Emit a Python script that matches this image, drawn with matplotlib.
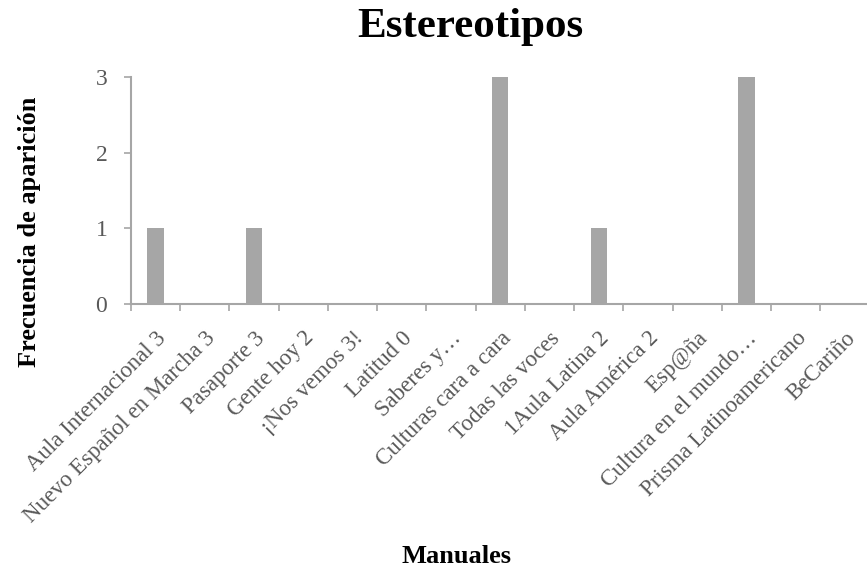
import matplotlib
matplotlib.use("Agg")
import matplotlib.pyplot as plt
from matplotlib.transforms import ScaledTranslation
import numpy as np

manuales = [
    "Aula Internacional 3",
    "Nuevo Español en Marcha 3",
    "Pasaporte 3",
    "Gente hoy 2",
    "¡Nos vemos 3!",
    "Latitud 0",
    "Saberes y…",
    "Culturas cara a cara",
    "Todas las voces",
    "1Aula Latina 2",
    "Aula América 2",
    "Esp@ña",
    "Cultura en el mundo…",
    "Prisma Latinoamericano",
    "BeCariño",
]
frecuencia = [1, 0, 1, 0, 0, 0, 0, 3, 0, 1, 0, 0, 3, 0, 0]
y_ticks = [0, 1, 2, 3]

gris = "#a6a6a6"
texto_gris = "#595959"

plt.rcParams["font.family"] = ["Liberation Serif", "DejaVu Serif"]

fig = plt.figure(figsize=(8.67, 5.71), dpi=100)
ax = fig.add_axes([0.151, 0.4676, 0.852, 0.3975])

x = np.arange(len(manuales))
ax.bar(x, frecuencia, width=0.33, color=gris, zorder=2)

ax.set_xlim(-0.5, len(manuales) - 0.5)
ax.set_ylim(0, 3)
ax.set_yticks(y_ticks)
ax.set_yticklabels([str(v) for v in y_ticks], fontsize=17, color=texto_gris)

# category boundaries carry the tick marks; labels sit at the centres
ax.set_xticks(np.arange(len(manuales) + 1) - 0.5)
ax.set_xticklabels([])
ax.set_xticks(x, minor=True)
ax.set_xticklabels(manuales, minor=True, rotation=45, ha="right",
                   rotation_mode="anchor", fontsize=16.5, color=texto_gris)
shift = ScaledTranslation(-5 / 100, 0, fig.dpi_scale_trans)
for lbl in ax.get_xticklabels(minor=True):
    lbl.set_transform(lbl.get_transform() + shift)
ax.tick_params(axis="x", which="major", length=5, width=1.2, color=gris, direction="out")
ax.tick_params(axis="x", which="minor", length=0, pad=17)
ax.tick_params(axis="y", length=5, width=1.2, color=gris, direction="out", pad=12)

for side in ("top", "right"):
    ax.spines[side].set_visible(False)
for side in ("left", "bottom"):
    ax.spines[side].set_color(gris)
    ax.spines[side].set_linewidth(1.5)

fig.text(0.542, 0.952, "Estereotipos", ha="center", va="center",
         fontsize=31, fontweight="bold", color="black")
fig.text(0.526, 0.026, "Manuales", ha="center", va="center",
         fontsize=19, fontweight="bold", color="black")
fig.text(0.034, 0.594, "Frecuencia de aparición", ha="center", va="center",
         rotation=90, fontsize=19, fontweight="bold", color="black")

fig.savefig("out.png", dpi=100)
